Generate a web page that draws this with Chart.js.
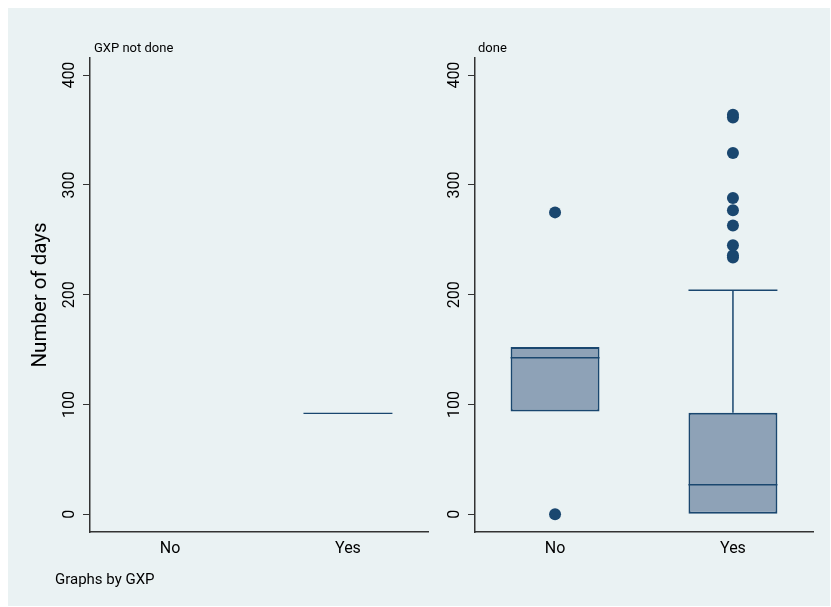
<!DOCTYPE html>
<html>
<head>
<meta charset="utf-8">
<script src="https://cdn.jsdelivr.net/npm/chart.js@4.4.0/dist/chart.umd.min.js"></script>
<style>
    html, body { margin: 0; padding: 0; background: #ffffff; }
    #graph {
        position: absolute;
        left: 8px;
        top: 8px;
        width: 822px;
        height: 598px;
        background: #eaf2f3;
    }
    #graph canvas { position: absolute; top: 0; }
    #leftPanel { left: 0; }
    #rightPanel { left: 427px; }
</style>
</head>
<body>
<div id="graph">
    <canvas id="leftPanel" width="427" height="598"></canvas>
    <canvas id="rightPanel" width="394" height="598"></canvas>
</div>
<script>
// Box plot of days by category, one panel per GXP group
const categories = ['No', 'Yes'];
const panelTitles = ['GXP not done', 'done'];
const yTicks = [0, 100, 200, 300, 400];

// GXP not done: only the "Yes" group has data (a single value)
const notDoneQ1 = [null, 92];
const notDoneMedian = [null, 92];
const notDoneQ3 = [null, 92];
const notDoneLowWhisker = [null, 92];
const notDoneHighWhisker = [null, 92];
const notDoneOutliers = [[], []];

// GXP done
const doneQ1 = [93.7, 0];
const doneMedian = [142.7, 27];
const doneQ3 = [152.5, 92.5];
const doneLowWhisker = [93.7, 0];
const doneHighWhisker = [152.5, 204];
const doneOutliers = [
    [0, 275],
    [234, 236, 245, 263, 277, 288, 329, 361.5, 364]
];

const NAVY = '#1a476f';
const BOX_FILL = '#8ea2b7';
const FONT = 'Roboto, "DejaVu Sans", sans-serif';
const HALF_BOX = 0.25;

function boxData(q1, q3) {
    const out = [];
    q1.forEach((v, i) => {
        if (v !== null) out.push({ x: i + 1, y: [v, q3[i]] });
    });
    return out;
}

function medianData(med) {
    const out = [];
    med.forEach((v, i) => {
        if (v === null) return;
        out.push({ x: i + 1 - HALF_BOX, y: v }, { x: i + 1 + HALF_BOX, y: v }, { x: i + 1.5, y: null });
    });
    return out;
}

// whisker + cap, skipped when the whisker collapses onto the box edge
function whiskerData(q1, q3, lo, hi) {
    const out = [];
    q1.forEach((v, i) => {
        if (v === null) return;
        const x = i + 1;
        if (hi[i] > q3[i]) {
            out.push({ x: x, y: q3[i] }, { x: x, y: hi[i] }, { x: x, y: null });
            out.push({ x: x - HALF_BOX, y: hi[i] }, { x: x + HALF_BOX, y: hi[i] }, { x: x, y: null });
        }
        if (lo[i] < v) {
            out.push({ x: x, y: v }, { x: x, y: lo[i] }, { x: x, y: null });
            out.push({ x: x - HALF_BOX, y: lo[i] }, { x: x + HALF_BOX, y: lo[i] }, { x: x, y: null });
        }
    });
    return out;
}

function outlierData(outliers) {
    const out = [];
    outliers.forEach((list, i) => list.forEach(v => out.push({ x: i + 1, y: v })));
    return out;
}

// panel heading (and the note under the left panel)
const panelText = {
    id: 'panelText',
    afterDraw(chart, args, opts) {
        const ctx = chart.ctx;
        ctx.save();
        ctx.fillStyle = '#000';
        ctx.textAlign = 'left';
        ctx.textBaseline = 'alphabetic';
        ctx.font = '13px ' + FONT;
        ctx.fillText(opts.title, chart.chartArea.left + opts.titleDx, 44);
        if (opts.note) {
            ctx.font = '15px ' + FONT;
            ctx.fillText(opts.note, 47, 576);
        }
        ctx.restore();
    }
};

function makePanel(canvasId, p) {
    const datasets = [
        {
            type: 'scatter',
            data: outlierData(p.outliers),
            pointRadius: 6,
            pointBackgroundColor: NAVY,
            pointBorderWidth: 0,
            order: 0
        },
        {
            type: 'line',
            data: medianData(p.median),
            borderColor: NAVY,
            borderWidth: p.lineWidth,
            pointRadius: 0,
            spanGaps: false,
            order: 1
        },
        {
            type: 'line',
            data: whiskerData(p.q1, p.q3, p.lo, p.hi),
            borderColor: NAVY,
            borderWidth: 1.5,
            pointRadius: 0,
            spanGaps: false,
            order: 1
        },
        {
            type: 'bar',
            data: boxData(p.q1, p.q3),
            backgroundColor: BOX_FILL,
            borderColor: NAVY,
            borderWidth: 2,
            borderSkipped: false,
            barPercentage: 0.5,
            categoryPercentage: 1,
            order: 2
        }
    ];

    return new Chart(document.getElementById(canvasId), {
        type: 'bar',
        data: { datasets: datasets },
        options: {
            responsive: false,
            animation: false,
            layout: {
                padding: { top: 50, right: p.padRight, bottom: 0, left: 0 }
            },
            plugins: {
                legend: { display: false },
                tooltip: { enabled: false },
                panelText: { title: p.title, titleDx: p.titleDx, note: p.note }
            },
            scales: {
                x: {
                    type: 'linear',
                    min: 0.55,
                    max: 2.45,
                    offset: false,
                    afterBuildTicks: function(scale) {
                        scale.ticks = categories.map((c, i) => ({ value: i + 1 }));
                    },
                    afterFit: function(scale) {
                        scale.height = 74;
                    },
                    ticks: {
                        color: '#000',
                        font: { family: FONT, size: 16 },
                        padding: 7,
                        maxRotation: 0,
                        callback: function(value) {
                            return categories[value - 1];
                        }
                    },
                    grid: { display: false, drawTicks: false },
                    border: { display: true, color: '#333', width: 1.5 }
                },
                y: {
                    type: 'linear',
                    min: -16.1,
                    max: 415.6,
                    afterBuildTicks: function(scale) {
                        scale.ticks = yTicks.map(v => ({ value: v }));
                    },
                    afterFit: function(scale) {
                        scale.width = p.yWidth;
                    },
                    ticks: {
                        color: '#000',
                        font: { family: FONT, size: 16 },
                        minRotation: 90,
                        maxRotation: 90,
                        crossAlign: 'center',
                        padding: 0
                    },
                    grid: {
                        display: true,
                        drawOnChartArea: false,
                        drawTicks: true,
                        tickLength: 7,
                        color: '#333'
                    },
                    border: { display: true, color: '#333', width: 1.5 },
                    title: {
                        display: p.showYTitle,
                        text: 'Number of days',
                        color: '#000',
                        font: { family: FONT, size: 20.5 },
                        padding: { top: 20.5, bottom: 0 }
                    }
                }
            }
        },
        plugins: [panelText]
    });
}

makePanel('leftPanel', {
    title: panelTitles[0],
    titleDx: 4,
    note: 'Graphs by GXP',
    q1: notDoneQ1,
    median: notDoneMedian,
    q3: notDoneQ3,
    lo: notDoneLowWhisker,
    hi: notDoneHighWhisker,
    outliers: notDoneOutliers,
    lineWidth: 1.3,
    padRight: 7,
    yWidth: 82,
    showYTitle: true
});

makePanel('rightPanel', {
    title: panelTitles[1],
    titleDx: 3,
    note: null,
    q1: doneQ1,
    median: doneMedian,
    q3: doneQ3,
    lo: doneLowWhisker,
    hi: doneHighWhisker,
    outliers: doneOutliers,
    lineWidth: 1.5,
    padRight: 16,
    yWidth: 40,
    showYTitle: false
});
</script>
</body>
</html>
